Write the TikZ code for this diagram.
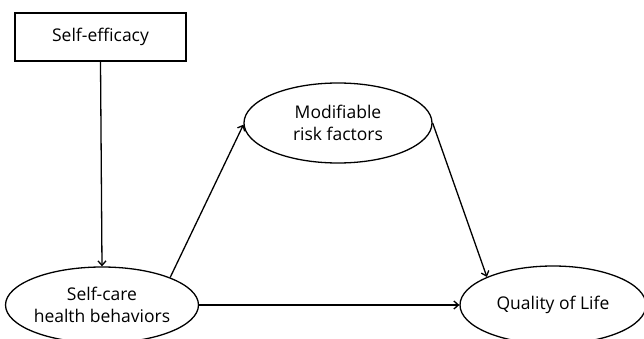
\documentclass[tikz,border=0pt]{standalone}
\usepackage{fontspec}
\setmainfont{Open Sans}
\usetikzlibrary{shapes.geometric,arrows.meta}
\begin{document}
\begin{tikzpicture}[x=1pt,y=-1pt,
  every node/.style={font=\fontsize{17.5}{22}\selectfont, align=center, text=black},
  boxnode/.style={draw, line width=1.3pt, rectangle, minimum width=171pt, minimum height=48pt, inner sep=0pt},
  ellnode/.style={draw, line width=1.3pt, ellipse, inner sep=0pt},
  conn/.style={line width=1.3pt, -{Straight Barb[length=4.5pt,width=8pt]}}]
\useasboundingbox (0,0) rectangle (644,339);
\node[boxnode] (se) at (100.5,37) {Self-efficacy};
\node[ellnode, minimum width=190pt, minimum height=76pt] (sc) at (102,305) {Self-care\\health behaviors};
\node[ellnode, minimum width=188pt, minimum height=80pt] (mr) at (338,123) {Modifiable\\risk factors};
\node[ellnode, minimum width=186pt, minimum height=78pt] (ql) at (553,305) {Quality of Life};
\draw[conn] (se.south) -- (sc.north);
\draw[conn] (sc.22) -- (mr.181);
\draw[conn] (mr.east) -- (ql.157);
\draw[conn] (sc.east) -- (ql.west);
\end{tikzpicture}
\end{document}
